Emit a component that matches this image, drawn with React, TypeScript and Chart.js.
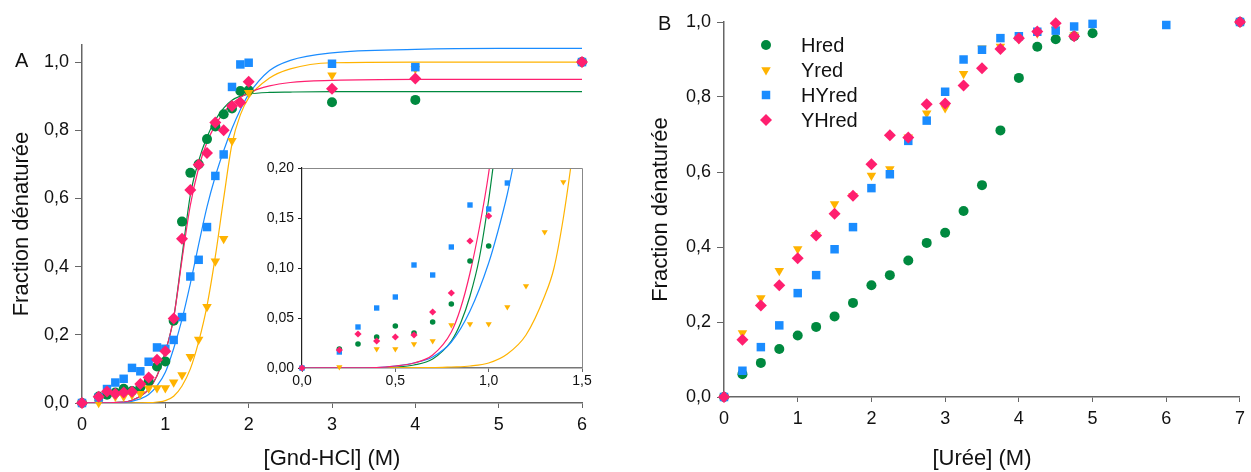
import React, { useEffect, useRef } from 'react';
import { Chart, registerables } from 'chart.js';
Chart.register(...registerables);

const FONT = '"Liberation Sans", Arial, Helvetica, sans-serif';
const GREEN = '#00893f';
const ORANGE = '#ffb300';
const BLUE = '#1a8cff';
const PINK = '#ff1f6f';
const TEXT = '#111111';
const AXIS = '#666666';

// ---------- Panel A : [Gnd-HCl] (M) ----------
const gndX = [0, 0.2, 0.3, 0.4, 0.5, 0.6, 0.7, 0.8, 0.9, 1.0, 1.1, 1.2, 1.3, 1.4, 1.5, 1.6, 1.7, 1.8, 1.9, 2.0, 3, 4, 6];
const gndHred = [0, 0.019, 0.024, 0.031, 0.042, 0.035, 0.046, 0.064, 0.107, 0.122, 0.241, 0.532, 0.675, 0.70, 0.774, 0.811, 0.847, 0.864, 0.915, 0.917, 0.882, 0.889, 1.0];
const gndHYred = [0, 0.016, 0.041, 0.060, 0.071, 0.103, 0.093, 0.121, 0.163, 0.159, 0.185, 0.252, 0.371, 0.42, 0.516, 0.666, 0.729, 0.927, 0.993, 0.998, 0.995, 0.985, 1.0];
const gndYHred = [0, 0.018, 0.034, 0.027, 0.031, 0.033, 0.056, 0.075, 0.127, 0.152, 0.248, 0.482, 0.625, 0.699, 0.733, 0.823, 0.80, 0.871, 0.881, 0.942, 0.922, 0.952, 1.0];
const gndYredX = [0, 0.2, 0.4, 0.5, 0.6, 0.7, 0.8, 0.9, 1.0, 1.1, 1.2, 1.3, 1.4, 1.5, 1.6, 1.7, 1.8, 2.0, 3, 4, 6];
const gndYred = [0, 0.001, 0.019, 0.019, 0.024, 0.027, 0.043, 0.044, 0.044, 0.061, 0.082, 0.136, 0.186, 0.282, 0.416, 0.482, 0.769, 0.91, 0.961, 0.98, 1.0];

// fitted curves as drawn in the main panel
const fitX = [0, 0.5, 0.7, 0.8, 0.9, 1.0, 1.1, 1.2, 1.3, 1.4, 1.5, 1.6, 1.7, 1.8, 1.9, 2.0, 2.25, 2.5, 3, 4, 5, 6];
const fitHred = [0, 0.003, 0.02, 0.04, 0.08, 0.15, 0.25, 0.43, 0.61, 0.71, 0.78, 0.83, 0.865, 0.888, 0.900, 0.906, 0.911, 0.912, 0.913, 0.913, 0.913, 0.913];
const fitYHred = [0, 0.003, 0.02, 0.04, 0.08, 0.15, 0.25, 0.42, 0.58, 0.69, 0.765, 0.815, 0.852, 0.878, 0.896, 0.91, 0.93, 0.94, 0.946, 0.949, 0.949, 0.949];
const fitHYred = [0, 0.002, 0.012, 0.025, 0.05, 0.09, 0.16, 0.245, 0.35, 0.465, 0.575, 0.665, 0.74, 0.805, 0.86, 0.905, 0.975, 1.005, 1.027, 1.037, 1.04, 1.04];
const fitYred = [0, 0, 0.0005, 0.001, 0.003, 0.007, 0.02, 0.05, 0.10, 0.18, 0.285, 0.43, 0.60, 0.76, 0.845, 0.895, 0.953, 0.98, 0.998, 1.0, 1.0, 1.0];

// fitted curves as drawn in the inset
const inHredX = [0, 0.4, 0.5, 0.6, 0.7, 0.8, 0.85, 0.9, 0.95, 1.0, 1.05];
const inHredY = [0, 0.0003, 0.001, 0.003, 0.009, 0.027, 0.045, 0.072, 0.11, 0.168, 0.24];
const inYHredX = [0, 0.4, 0.5, 0.6, 0.7, 0.8, 0.85, 0.9, 0.95, 1.0, 1.05];
const inYHredY = [0, 0.0005, 0.002, 0.005, 0.013, 0.036, 0.06, 0.095, 0.14, 0.195, 0.27];
const inHYredX = [0, 0.4, 0.5, 0.6, 0.7, 0.8, 0.9, 1.0, 1.05, 1.1, 1.15];
const inHYredY = [0, 0.0005, 0.002, 0.005, 0.011, 0.026, 0.057, 0.105, 0.137, 0.174, 0.22];
const inYredX = [0, 0.7, 0.8, 0.9, 1.0, 1.1, 1.2, 1.3, 1.35, 1.4, 1.45, 1.5];
const inYredY = [0, 0.0003, 0.001, 0.002, 0.005, 0.014, 0.033, 0.072, 0.10, 0.15, 0.215, 0.29];

// ---------- Panel B : [Urée] (M) ----------
const ureaHredX = [0, 0.25, 0.5, 0.75, 1, 1.25, 1.5, 1.75, 2, 2.25, 2.5, 2.75, 3, 3.25, 3.5, 3.75, 4, 4.25, 4.5, 4.75, 5, 7];
const ureaHred = [0, 0.061, 0.091, 0.128, 0.164, 0.187, 0.215, 0.251, 0.298, 0.325, 0.364, 0.411, 0.438, 0.496, 0.565, 0.711, 0.851, 0.934, 0.954, 0.962, 0.97, 1.0];
const ureaYredX = [0, 0.25, 0.5, 0.75, 1, 1.25, 1.5, 1.75, 2, 2.25, 2.5, 2.75, 3, 3.25, 3.5, 3.75, 4, 4.25, 4.5, 4.75, 7];
const ureaYred = [0, 0.171, 0.264, 0.337, 0.395, 0.432, 0.515, 0.537, 0.591, 0.608, 0.693, 0.757, 0.771, 0.862, 0.93, 0.935, 0.955, 0.97, 0.98, 0.965, 1.0];
const ureaHYredX = [0, 0.25, 0.5, 0.75, 1, 1.25, 1.5, 1.75, 2, 2.25, 2.5, 2.75, 3, 3.25, 3.5, 3.75, 4, 4.25, 4.5, 4.75, 5, 6, 7];
const ureaHYred = [0, 0.070, 0.133, 0.191, 0.277, 0.325, 0.394, 0.453, 0.557, 0.594, 0.683, 0.737, 0.814, 0.900, 0.926, 0.957, 0.962, 0.974, 0.977, 0.988, 0.995, 0.992, 1.0];
const ureaYHredX = [0, 0.25, 0.5, 0.75, 1, 1.25, 1.5, 1.75, 2, 2.25, 2.5, 2.75, 3, 3.25, 3.5, 3.75, 4, 4.25, 4.5, 4.75, 7];
const ureaYHred = [0, 0.153, 0.244, 0.298, 0.370, 0.431, 0.489, 0.537, 0.621, 0.698, 0.692, 0.781, 0.783, 0.831, 0.877, 0.928, 0.957, 0.975, 0.997, 0.962, 1.0];

const legendLabels = ['Hred', 'Yred', 'HYred', 'YHred'];
const yTickValues = [0, 0.2, 0.4, 0.6, 0.8, 1.0];

const pts = (xs: number[], ys: number[]) => xs.map((x, i) => ({ x, y: ys[i] }));

function markers(label: string, xs: number[], ys: number[], color: string, style: string, r: number, rot: number, order: number) {
  return {
    type: 'scatter', label, data: pts(xs, ys), pointStyle: style, pointRadius: r, pointHoverRadius: r,
    pointRotation: rot, backgroundColor: color, borderColor: color, borderWidth: 0, showLine: false,
    clip: false, order,
  };
}
function curve(xs: number[], ys: number[], color: string, order: number) {
  return {
    type: 'scatter', label: '', data: pts(xs, ys), showLine: true, borderColor: color, backgroundColor: color,
    borderWidth: 1.2, pointRadius: 0, pointHoverRadius: 0, fill: false, cubicInterpolationMode: 'monotone', order,
  };
}

function drawMarker(ctx: CanvasRenderingContext2D, style: string, x: number, y: number, r: number, color: string) {
  ctx.save();
  ctx.fillStyle = color;
  ctx.beginPath();
  if (style === 'circle') ctx.arc(x, y, r, 0, Math.PI * 2);
  else if (style === 'triangle') {
    ctx.moveTo(x - r * 0.866, y - r * 0.5);
    ctx.lineTo(x + r * 0.866, y - r * 0.5);
    ctx.lineTo(x, y + r);
    ctx.closePath();
  } else if (style === 'rect') {
    const s = r * Math.SQRT1_2;
    ctx.rect(x - s, y - s, 2 * s, 2 * s);
  } else {
    ctx.moveTo(x, y - r);
    ctx.lineTo(x + r, y);
    ctx.lineTo(x, y + r);
    ctx.lineTo(x - r, y);
    ctx.closePath();
  }
  ctx.fill();
  ctx.restore();
}

const fmt1 = (v: any) => Number(v).toFixed(1).replace('.', ',');
const fmt2 = (v: any) => Number(v).toFixed(2).replace('.', ',');

function mainAxes(xMax: number, yMax: number, xTitle: string, yWidth: number, xHeight: number, yTitlePad: number, xTitlePad: number) {
  return {
    x: {
      type: 'linear', min: 0, max: xMax,
      ticks: { stepSize: 1, autoSkip: false, maxRotation: 0, padding: 6, color: TEXT, font: { family: FONT, size: 18 }, callback: (v: any) => String(v) },
      grid: { drawOnChartArea: false, drawTicks: true, tickLength: 5, color: AXIS, tickColor: AXIS },
      border: { display: true, color: AXIS, width: 1.5 },
      title: { display: true, text: xTitle, color: TEXT, font: { family: FONT, size: 22 }, padding: { top: 0, bottom: xTitlePad } },
      afterFit: (s: any) => { s.height = xHeight; },
    },
    y: {
      type: 'linear', min: 0, max: yMax,
      ticks: { stepSize: 0.2, autoSkip: false, padding: 6, color: TEXT, font: { family: FONT, size: 18 }, callback: fmt1 },
      afterBuildTicks: (s: any) => { s.ticks = yTickValues.map((v) => ({ value: v })); },
      grid: { drawOnChartArea: false, drawTicks: true, tickLength: 7, color: AXIS, tickColor: AXIS },
      border: { display: true, color: AXIS, width: 1.5 },
      title: { display: true, text: 'Fraction dénaturée', color: TEXT, font: { family: FONT, size: 22 }, padding: { top: yTitlePad, bottom: 0 } },
      afterFit: (s: any) => { s.width = yWidth; },
    },
  };
}

const baseOpts = {
  responsive: false,
  maintainAspectRatio: false,
  animation: false,
  events: [],
  plugins: { legend: { display: false }, tooltip: { enabled: false }, title: { display: false } },
};

export default function App() {
  const refA = useRef<HTMLCanvasElement>(null);
  const refIn = useRef<HTMLCanvasElement>(null);
  const refB = useRef<HTMLCanvasElement>(null);

  useEffect(() => {
    const charts: Chart[] = [];

    // ---- Panel A main ----
    charts.push(new Chart(refA.current as HTMLCanvasElement, {
      type: 'scatter',
      data: {
        datasets: [
          curve(fitX, fitHred, GREEN, 13),
          curve(fitX, fitYred, ORANGE, 12),
          curve(fitX, fitHYred, BLUE, 11),
          curve(fitX, fitYHred, PINK, 10),
          markers('Hred', gndX, gndHred, GREEN, 'circle', 5, 0, 3),
          markers('Yred', gndYredX, gndYred, ORANGE, 'triangle', 5.5, 180, 2),
          markers('HYred', gndX, gndHYred, BLUE, 'rect', 6, 0, 1),
          markers('YHred', gndX, gndYHred, PINK, 'rectRot', 6, 0, 0),
        ] as any,
      },
      options: {
        ...baseOpts,
        layout: { padding: { left: 0, top: 45, right: 18, bottom: 0 } },
        scales: mainAxes(6, 1.05, '[Gnd-HCl] (M)', 82, 69, 9, 0) as any,
      } as any,
    }));

    // ---- Inset ----
    const insetBorder = {
      id: 'insetBorder',
      afterDraw(chart: any) {
        const { ctx, chartArea } = chart;
        ctx.save();
        ctx.strokeStyle = '#888888';
        ctx.lineWidth = 1;
        ctx.beginPath();
        ctx.moveTo(chartArea.left, chartArea.top + 0.5);
        ctx.lineTo(chartArea.right + 0.5, chartArea.top + 0.5);
        ctx.lineTo(chartArea.right + 0.5, chartArea.bottom);
        ctx.stroke();
        ctx.restore();
      },
    };
    charts.push(new Chart(refIn.current as HTMLCanvasElement, {
      type: 'scatter',
      data: {
        datasets: [
          curve(inHredX, inHredY, GREEN, 13),
          curve(inYredX, inYredY, ORANGE, 12),
          curve(inHYredX, inHYredY, BLUE, 11),
          curve(inYHredX, inYHredY, PINK, 10),
          markers('Hred', gndX, gndHred, GREEN, 'circle', 2.8, 0, 3),
          markers('Yred', gndYredX, gndYred, ORANGE, 'triangle', 3.6, 180, 2),
          markers('HYred', gndX, gndHYred, BLUE, 'rect', 3.8, 0, 1),
          markers('YHred', gndX, gndYHred, PINK, 'rectRot', 3.6, 0, 0),
        ] as any,
      },
      options: {
        ...baseOpts,
        layout: { padding: { left: 0, top: 18, right: 13, bottom: 0 } },
        scales: {
          x: {
            type: 'linear', min: 0, max: 1.5,
            ticks: { stepSize: 0.5, autoSkip: false, maxRotation: 0, padding: 1, color: TEXT, font: { family: FONT, size: 14 }, callback: fmt1 },
            grid: { drawOnChartArea: false, drawTicks: true, tickLength: 4, color: AXIS, tickColor: AXIS },
            border: { display: true, color: '#777777', width: 1.5 },
            afterFit: (s: any) => { s.height = 32; },
          },
          y: {
            type: 'linear', min: 0, max: 0.2,
            ticks: { stepSize: 0.05, autoSkip: false, padding: 4, color: TEXT, font: { family: FONT, size: 14 }, callback: fmt2 },
            grid: { drawOnChartArea: false, drawTicks: true, tickLength: 4, color: '#222222', tickColor: '#222222' },
            border: { display: true, color: '#222222', width: 1.2 },
            afterFit: (s: any) => { s.width = 52; },
          },
        },
      } as any,
      plugins: [insetBorder],
    }));

    // ---- Panel B ----
    const legendPlugin = {
      id: 'customLegend',
      afterDraw(chart: any) {
        const ctx = chart.ctx as CanvasRenderingContext2D;
        const styles = ['circle', 'triangle', 'rect', 'diamond'];
        const colors = [GREEN, ORANGE, BLUE, PINK];
        const radii = [5, 5.5, 6, 6];
        const rows = [45, 70, 95, 120];
        legendLabels.forEach((lab, i) => {
          drawMarker(ctx, styles[i], 156, rows[i], radii[i], colors[i]);
          ctx.save();
          ctx.fillStyle = TEXT;
          ctx.font = `20px ${FONT}`;
          ctx.textBaseline = 'middle';
          ctx.textAlign = 'left';
          ctx.fillText(lab, 191, rows[i] + 1);
          ctx.restore();
        });
      },
    };
    charts.push(new Chart(refB.current as HTMLCanvasElement, {
      type: 'scatter',
      data: {
        datasets: [
          markers('Hred', ureaHredX, ureaHred, GREEN, 'circle', 5, 0, 3),
          markers('Yred', ureaYredX, ureaYred, ORANGE, 'triangle', 5.5, 180, 2),
          markers('HYred', ureaHYredX, ureaHYred, BLUE, 'rect', 6, 0, 1),
          markers('YHred', ureaYHredX, ureaYHred, PINK, 'rectRot', 6, 0, 0),
        ] as any,
      },
      options: {
        ...baseOpts,
        layout: { padding: { left: 0, top: 22, right: 7, bottom: 0 } },
        scales: mainAxes(7, 1.0, '[Urée] (M)', 114, 75, 38, 0) as any,
      } as any,
      plugins: [legendPlugin],
    }));

    return () => charts.forEach((c) => c.destroy());
  }, []);

  const letter = { position: 'absolute' as const, fontFamily: FONT, fontSize: 20, lineHeight: '22px', color: TEXT };

  return (
    <div style={{ position: 'fixed', left: 0, top: 0, width: 1251, height: 472, background: '#ffffff', overflow: 'hidden' }}>
      <canvas ref={refA} width={600} height={472} style={{ position: 'absolute', left: 0, top: 0 }} />
      <canvas ref={refIn} width={345} height={250} style={{ position: 'absolute', left: 250, top: 150 }} />
      <canvas ref={refB} width={641} height={472} style={{ position: 'absolute', left: 610, top: 0 }} />
      <div style={{ ...letter, left: 15, top: 49 }}>A</div>
      <div style={{ ...letter, left: 658, top: 12 }}>B</div>
    </div>
  );
}
